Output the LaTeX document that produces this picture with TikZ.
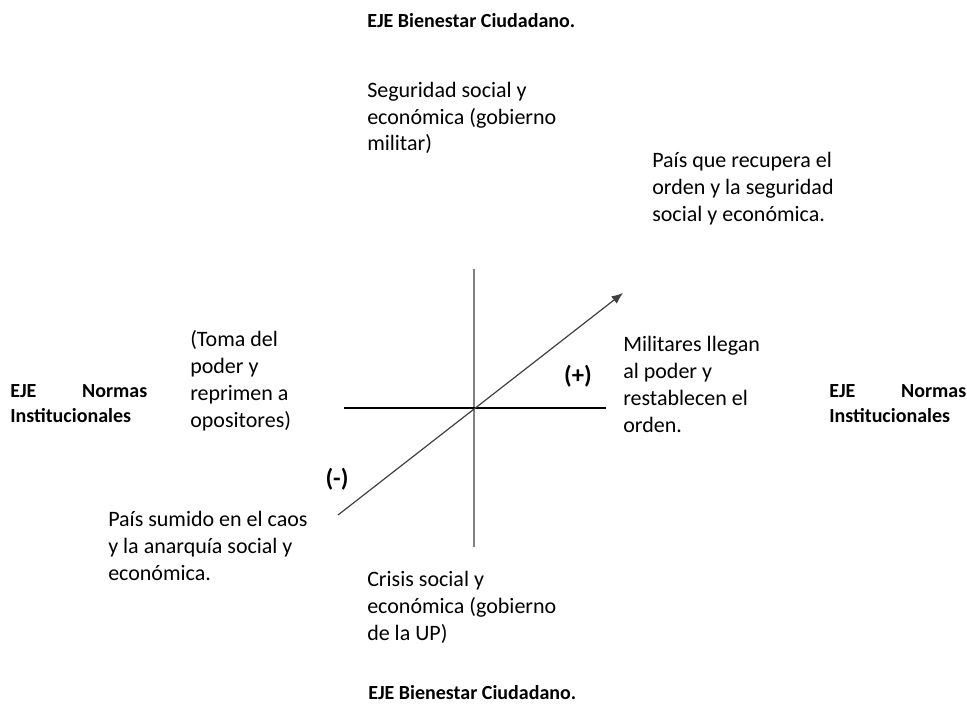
\documentclass[tikz,border=0pt]{standalone}
\usepackage{fontspec}
\setmainfont{Carlito}
\usetikzlibrary{arrows.meta}
\tikzset{
  body/.style={inner sep=0pt, anchor=base west, align=left, text=black,
    font=\fontsize{16.5}{20.1}\selectfont},
  heading/.style={inner sep=0pt, anchor=base west, align=left, text=black,
    font=\fontsize{15}{18.3}\selectfont\bfseries},
  sign/.style={inner sep=0pt, anchor=center, text=black,
    font=\fontsize{18.5}{22}\selectfont\bfseries},
  vaxis/.style={draw=black!50, line width=1.9pt},
  haxis/.style={draw=black, line width=1.5pt},
  trend/.style={draw=black!75, line width=0.9pt, -{Latex[length=8.5pt,width=7pt]}}
}
\begin{document}
\begin{tikzpicture}[x=0.75pt,y=-0.75pt]
\useasboundingbox (0,0) rectangle (967,706);
% axes
\coordinate (O) at (474,408);
\coordinate (vt) at (474,269);
\coordinate (vb) at (474,547);
\coordinate (hl) at (344,408);
\coordinate (hr) at (606,408);
\coordinate (ds) at (338,515);
\coordinate (de) at (623,293);
\draw[vaxis] (vt) -- (vb);
\draw[haxis] (hl) -- (hr);
\draw[trend] (ds) -- (de);
% signs
\node[sign] (plus) at (578,376) {(+)};
\node[sign] (minus) at (337,479) {(-)};
% headings (anchor = baseline of last line)
\node[heading] (topaxis) at (367,28) {EJE Bienestar Ciudadano.};
\node[heading] (botaxis) at (368,699) {EJE Bienestar Ciudadano.};
\node[heading] (leftaxis) at (10,422) {\makebox[102.75pt][s]{EJE\hfill Normas}\\Institucionales};
\node[heading] (rightaxis) at (829,422) {\makebox[102.75pt][s]{EJE\hfill Normas}\\Institucionales};
% body texts (anchor = baseline of last line)
\node[body] (top) at (367,151) {Seguridad social y\\económica (gobierno\\militar)};
\node[body] (ne) at (652,221) {País que recupera el\\orden y la seguridad\\social y económica.};
\node[body] (east) at (623,432) {Militares llegan\\al poder y\\restablecen el\\orden.};
\node[body] (west) at (190,427) {(Toma del\\poder y\\reprimen a\\opositores)};
\node[body] (sw) at (108,580) {País sumido en el caos\\y la anarquía social y\\económica.};
\node[body] (bottom) at (367,640) {Crisis social y\\económica (gobierno\\de la UP)};
\end{tikzpicture}
\end{document}
